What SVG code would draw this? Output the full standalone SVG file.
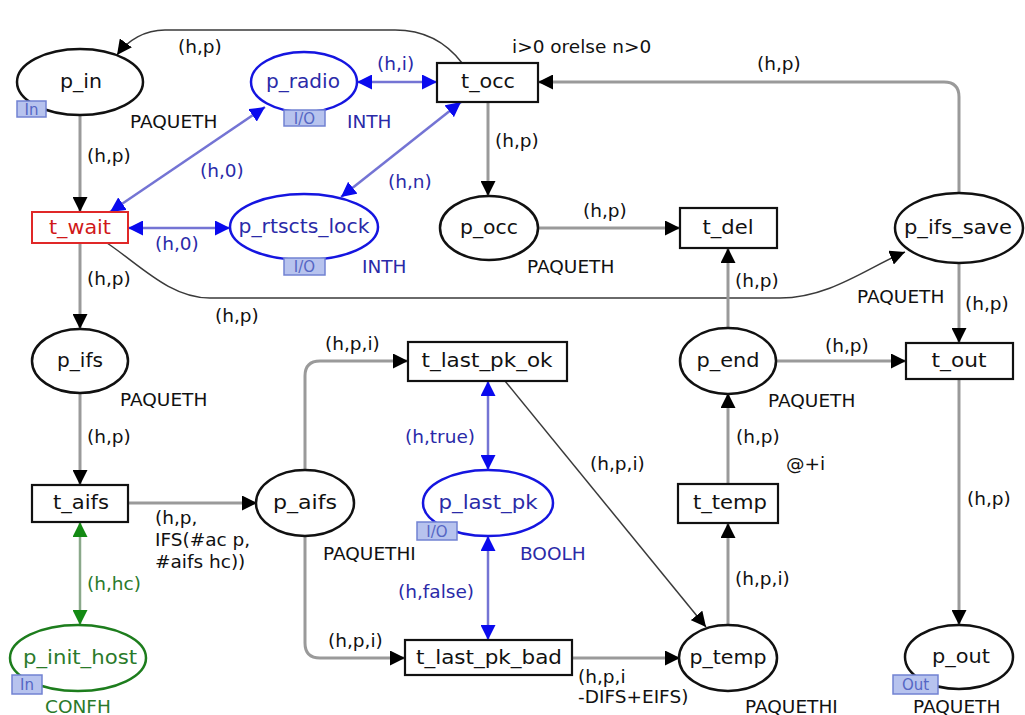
<svg xmlns="http://www.w3.org/2000/svg" width="1025" height="715" viewBox="0 0 1025 715">
<style>
text{font-family:"DejaVu Sans","Liberation Sans",sans-serif;font-size:18.5px;fill:#111}
.nm{text-anchor:middle;font-size:19px}
.pl{fill:#fff;stroke:#111;stroke-width:2.5}
.tr{fill:#fff;stroke:#111;stroke-width:2.2}
.bp{fill:#fff;stroke:#1515e0;stroke-width:2.5}
.gp{fill:#fff;stroke:#1d7d1d;stroke-width:2.5}
.bt{fill:#2a2aa8}
.gt{fill:#2a7a2a}
.tag{fill:#b7c3ee;stroke:#7282d2;stroke-width:1.5}
.tagt{font-size:15px;fill:#5566c4;text-anchor:middle}
.a{fill:none;stroke:#9a9a9a;stroke-width:3}
.d{fill:none;stroke:#3a3a3a;stroke-width:1.5}
.b{fill:none;stroke:#7474d4;stroke-width:2.5}
.g{fill:none;stroke:#8aa88a;stroke-width:2.5}
</style>
<defs>
<marker id="ak" viewBox="0 0 10 10" refX="10" refY="5" markerWidth="15" markerHeight="15" markerUnits="userSpaceOnUse" orient="auto-start-reverse"><path d="M0,0 L10,5 L0,10 z" fill="#000"/></marker>
<marker id="ab" viewBox="0 0 10 10" refX="10" refY="5" markerWidth="15" markerHeight="15" markerUnits="userSpaceOnUse" orient="auto-start-reverse"><path d="M0,0 L10,5 L0,10 z" fill="#0a0aee"/></marker>
<marker id="ag" viewBox="0 0 10 10" refX="10" refY="5" markerWidth="15" markerHeight="15" markerUnits="userSpaceOnUse" orient="auto-start-reverse"><path d="M0,0 L10,5 L0,10 z" fill="#138a13"/></marker>
</defs>
<rect width="1025" height="715" fill="#fff"/>

<g id="connectors">
<path class="d" d="M462,63 C446,42 425,30 395,30 L165,30 C145,30 128,40 117,55" marker-end="url(#ak)"/>
<path class="a" d="M80,115 L80,212" marker-end="url(#ak)"/>
<path class="b" d="M265,107 L110,212" marker-start="url(#ab)" marker-end="url(#ab)"/>
<path class="b" d="M128,228 L230,228" marker-start="url(#ab)" marker-end="url(#ab)"/>
<path class="b" d="M357,82 L437,82" marker-start="url(#ab)" marker-end="url(#ab)"/>
<path class="b" d="M461,102 L341,197" marker-start="url(#ab)" marker-end="url(#ab)"/>
<path class="a" d="M488,102 L488,196" marker-end="url(#ak)"/>
<path class="a" d="M538,228 L680,228" marker-end="url(#ak)"/>
<path class="a" d="M959,193 L959,97 Q959,82 944,82 L538,82" marker-end="url(#ak)"/>
<path class="d" d="M107,243 C140,265 170,298 210,298 L780,298 C830,298 870,266 905,252" marker-end="url(#ak)"/>
<path class="a" d="M80,243 L80,329" marker-end="url(#ak)"/>
<path class="a" d="M80,394 L80,485" marker-end="url(#ak)"/>
<path class="g" d="M80,522 L80,625" marker-start="url(#ag)" marker-end="url(#ag)"/>
<path class="a" d="M128,503 L257,503" marker-end="url(#ak)"/>
<path class="a" d="M305,470 L305,376 Q305,361 320,361 L408,361" marker-end="url(#ak)"/>
<path class="a" d="M305,536 L305,643 Q305,658 320,658 L405,658" marker-end="url(#ak)"/>
<path class="b" d="M488,381 L488,470" marker-start="url(#ab)" marker-end="url(#ab)"/>
<path class="b" d="M488,536 L488,640" marker-start="url(#ab)" marker-end="url(#ab)"/>
<path class="d" d="M505,381 L706,627" marker-end="url(#ak)"/>
<path class="a" d="M572,658 L680,658" marker-end="url(#ak)"/>
<path class="a" d="M728,625 L728,523" marker-end="url(#ak)"/>
<path class="a" d="M728,484 L728,393" marker-end="url(#ak)"/>
<path class="a" d="M728,328 L728,248" marker-end="url(#ak)"/>
<path class="a" d="M777,361 L906,361" marker-end="url(#ak)"/>
<path class="a" d="M959,263 L959,343" marker-end="url(#ak)"/>
<path class="a" d="M959,379 L959,625" marker-end="url(#ak)"/>
</g>

<g id="arc-labels">
<text x="178" y="53">(h,p)</text>
<text x="87" y="162">(h,p)</text>
<text class="bt" x="200" y="177">(h,0)</text>
<text class="bt" x="155" y="250">(h,0)</text>
<text class="bt" x="377" y="70">(h,i)</text>
<text class="bt" x="388" y="188">(h,n)</text>
<text x="512" y="53">i&gt;0 orelse n&gt;0</text>
<text x="495" y="147">(h,p)</text>
<text x="583" y="217">(h,p)</text>
<text x="757" y="70">(h,p)</text>
<text x="215" y="322">(h,p)</text>
<text x="735" y="287">(h,p)</text>
<text x="965" y="310">(h,p)</text>
<text x="87" y="285">(h,p)</text>
<text x="87" y="443">(h,p)</text>
<text x="325" y="350">(h,p,i)</text>
<text class="bt" x="405" y="443">(h,true)</text>
<text x="590" y="470">(h,p,i)</text>
<text x="825" y="352">(h,p)</text>
<text x="736" y="443">(h,p)</text>
<text x="786" y="470">@+i</text>
<text x="967" y="505">(h,p)</text>
<text x="155" y="524">(h,p,</text>
<text x="155" y="546">IFS(#ac p,</text>
<text x="155" y="568">#aifs hc))</text>
<text class="gt" x="87" y="590">(h,hc)</text>
<text class="bt" x="398" y="598">(h,false)</text>
<text x="328" y="647">(h,p,i)</text>
<text x="578" y="683">(h,p,i</text>
<text x="578" y="703">-DIFS+EIFS)</text>
<text x="735" y="585">(h,p,i)</text>
</g>

<g id="p_in"><ellipse class="pl" cx="80" cy="82" rx="63" ry="33"/><text class="nm" x="81" y="88" textLength="42" lengthAdjust="spacingAndGlyphs">p_in</text><rect class="tag" x="17" y="101" width="29" height="16"/><text class="tagt" x="31.5" y="115">In</text><text x="130" y="128">PAQUETH</text></g>
<g id="t_wait"><rect x="32" y="212" width="96" height="31" fill="#fff" stroke="#e02828" stroke-width="2"/><text class="nm" x="80" y="234" textLength="62" lengthAdjust="spacingAndGlyphs" style="fill:#d01818">t_wait</text></g>
<g id="p_radio"><ellipse class="bp" cx="304" cy="82" rx="53" ry="30"/><text class="nm bt" x="303" y="88" textLength="74" lengthAdjust="spacingAndGlyphs">p_radio</text><rect class="tag" x="284" y="110" width="41" height="16"/><text class="tagt" x="304.5" y="124">I/O</text><text class="bt" x="347" y="128">INTH</text></g>
<g id="t_occ"><rect class="tr" x="437" y="63" width="101" height="39"/><text class="nm" x="488" y="88" textLength="54" lengthAdjust="spacingAndGlyphs">t_occ</text></g>
<g id="p_rtscts_lock"><ellipse class="bp" cx="304" cy="227" rx="74" ry="33"/><text class="nm bt" x="304" y="233" textLength="131" lengthAdjust="spacingAndGlyphs">p_rtscts_lock</text><rect class="tag" x="284" y="258" width="41" height="17"/><text class="tagt" x="304.5" y="272">I/O</text><text class="bt" x="362" y="273">INTH</text></g>
<g id="p_occ"><ellipse class="pl" cx="489" cy="228" rx="49" ry="32"/><text class="nm" x="489" y="234" textLength="58" lengthAdjust="spacingAndGlyphs">p_occ</text><text x="527" y="273">PAQUETH</text></g>
<g id="t_del"><rect class="tr" x="680" y="208" width="97" height="40"/><text class="nm" x="728" y="234" textLength="51" lengthAdjust="spacingAndGlyphs">t_del</text></g>
<g id="p_ifs_save"><ellipse class="pl" cx="959" cy="228" rx="64" ry="35"/><text class="nm" x="958" y="234" textLength="108" lengthAdjust="spacingAndGlyphs">p_ifs_save</text><text x="857" y="303">PAQUETH</text></g>
<g id="p_ifs"><ellipse class="pl" cx="80" cy="361" rx="48" ry="32"/><text class="nm" x="80" y="367" textLength="46" lengthAdjust="spacingAndGlyphs">p_ifs</text><text x="120" y="406">PAQUETH</text></g>
<g id="t_aifs"><rect class="tr" x="32" y="485" width="96" height="37"/><text class="nm" x="81" y="509" textLength="56" lengthAdjust="spacingAndGlyphs">t_aifs</text></g>
<g id="p_init_host"><ellipse class="gp" cx="78" cy="658" rx="68" ry="33"/><text class="nm gt" x="80" y="664" textLength="114" lengthAdjust="spacingAndGlyphs">p_init_host</text><rect class="tag" x="12" y="675" width="30" height="19"/><text class="tagt" x="27" y="690">In</text><text class="gt" x="45" y="713">CONFH</text></g>
<g id="p_aifs"><ellipse class="pl" cx="305" cy="503" rx="49" ry="33"/><text class="nm" x="305" y="509" textLength="64" lengthAdjust="spacingAndGlyphs">p_aifs</text><text x="323" y="560">PAQUETHI</text></g>
<g id="t_last_pk_ok"><rect class="tr" x="408" y="342" width="159" height="39"/><text class="nm" x="487" y="367" textLength="131" lengthAdjust="spacingAndGlyphs">t_last_pk_ok</text></g>
<g id="p_last_pk"><ellipse class="bp" cx="488" cy="503" rx="65" ry="33"/><text class="nm bt" x="488" y="509" textLength="99" lengthAdjust="spacingAndGlyphs">p_last_pk</text><rect class="tag" x="417" y="522" width="40" height="18"/><text class="tagt" x="437" y="537">I/O</text><text class="bt" x="520" y="560">BOOLH</text></g>
<g id="t_last_pk_bad"><rect class="tr" x="405" y="640" width="167" height="35"/><text class="nm" x="489" y="664" textLength="146" lengthAdjust="spacingAndGlyphs">t_last_pk_bad</text></g>
<g id="p_temp"><ellipse class="pl" cx="728" cy="658" rx="49" ry="33"/><text class="nm" x="728" y="664" textLength="77" lengthAdjust="spacingAndGlyphs">p_temp</text><text x="745" y="713">PAQUETHI</text></g>
<g id="t_temp"><rect class="tr" x="678" y="484" width="100" height="39"/><text class="nm" x="730" y="509" textLength="74" lengthAdjust="spacingAndGlyphs">t_temp</text></g>
<g id="p_end"><ellipse class="pl" cx="728" cy="361" rx="48" ry="33"/><text class="nm" x="728" y="367" textLength="63" lengthAdjust="spacingAndGlyphs">p_end</text><text x="768" y="407">PAQUETH</text></g>
<g id="t_out"><rect class="tr" x="906" y="343" width="107" height="36"/><text class="nm" x="959" y="367" textLength="55" lengthAdjust="spacingAndGlyphs">t_out</text></g>
<g id="p_out"><ellipse class="pl" cx="959" cy="657" rx="54" ry="32"/><text class="nm" x="961" y="663" textLength="58" lengthAdjust="spacingAndGlyphs">p_out</text><rect class="tag" x="893" y="675" width="45" height="19"/><text class="tagt" x="915.5" y="690">Out</text><text x="913" y="713">PAQUETH</text></g>
</svg>
